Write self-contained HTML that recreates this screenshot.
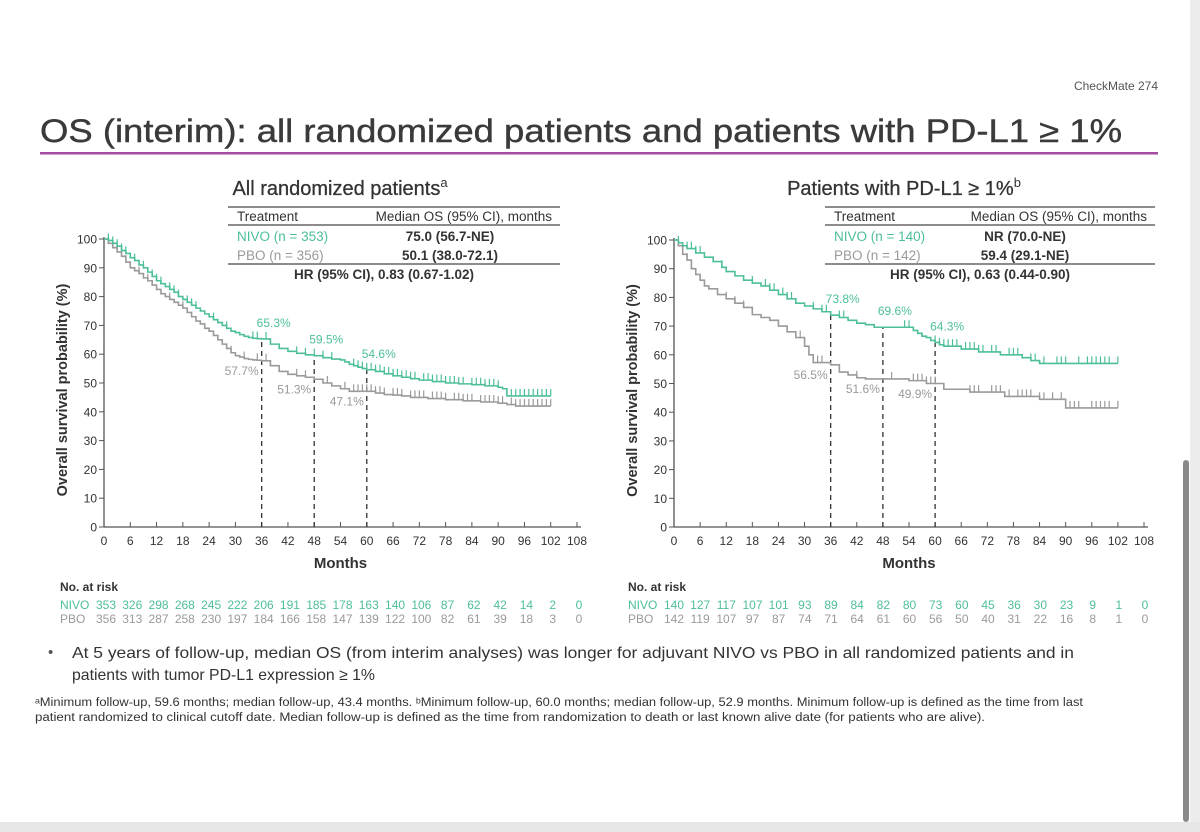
<!DOCTYPE html>
<html><head><meta charset="utf-8"><style>
html,body{margin:0;padding:0;background:#fff;width:1200px;height:832px;overflow:hidden}
svg{display:block;font-family:"Liberation Sans","DejaVu Sans",sans-serif}
</style></head><body>
<svg id="s" width="1200" height="832" viewBox="0 0 1200 832">
<rect x="0" y="0" width="1200" height="832" fill="#fff"/>
<rect x="1190" y="0" width="10" height="832" fill="#ececec"/>
<rect x="0" y="822" width="1200" height="10" fill="#e6e6e6"/>
<rect x="1183" y="460" width="6" height="362" rx="3" fill="#8a8a8a"/>
<text x="1158" y="90" font-size="12" fill="#555" text-anchor="end">CheckMate 274</text>
<text x="40" y="142" font-size="32" fill="#3a3a3a" stroke="#3a3a3a" stroke-width="0.4" textLength="1082" lengthAdjust="spacingAndGlyphs">OS (interim): all randomized patients and patients with PD-L1 ≥ 1%</text>
<rect x="40" y="152" width="1118" height="2.5" fill="#a54ba0"/>
<g id="charts"></g>
<text x="48" y="657" font-size="15" fill="#555">•</text>
<text x="72" y="658" font-size="16" fill="#333" textLength="1002" lengthAdjust="spacingAndGlyphs">At 5 years of follow-up, median OS (from interim analyses) was longer for adjuvant NIVO vs PBO in all randomized patients and in</text>
<text x="72" y="680" font-size="16" fill="#333" textLength="303" lengthAdjust="spacingAndGlyphs">patients with tumor PD-L1 expression ≥ 1%</text>
<text x="35" y="706" font-size="11.5" fill="#333" textLength="1048" lengthAdjust="spacingAndGlyphs">ᵃMinimum follow-up, 59.6 months; median follow-up, 43.4 months. ᵇMinimum follow-up, 60.0 months; median follow-up, 52.9 months. Minimum follow-up is defined as the time from last</text>
<text x="35" y="721" font-size="11.5" fill="#333" textLength="950" lengthAdjust="spacingAndGlyphs">patient randomized to clinical cutoff date. Median follow-up is defined as the time from randomization to death or last known alive date (for patients who are alive).</text>
</svg>
<script>
// ---- data ----
const xTicks=[0,6,12,18,24,30,36,42,48,54,60,66,72,78,84,90,96,102,108];
const yTicks=[0,10,20,30,40,50,60,70,80,90,100];
const riskMonths=[0,6,12,18,24,30,36,42,48,54,60,66,72,78,84,90,96,102,108];
const leftNivoT=[0,1,2,3,4,5,6,7,8,9,10,11,12,13,14,15,16,17,18,19,20,21,22,23,24,25,26,27,28,29,30,31,32,33,34,35,36,38,40,42,44,46,48,50,52,54,55,56,57,58,59,60,62,64,66,68,70,72,75,78,81,84,87,90,91,92,102];
const leftNivoS=[100,99.5,98.5,97.5,96,95,93.5,92.5,91,90,88.5,87,85.5,84.5,83.5,82.5,81.5,80,79,78,77,76,75,74,73,72,71,70,69,68,67.5,66.8,66.2,65.8,65.5,65.4,65.3,63.5,62,61,60.3,59.8,59.5,58.8,58.3,58,57.3,56.5,56,55.5,55,54.6,54,53.2,52.5,52,51.5,51,50.5,50,49.7,49.4,49,48.5,48,45.5,45.5];
const leftPboT=[0,1,2,3,4,5,6,7,8,9,10,11,12,13,14,15,16,17,18,19,20,21,22,23,24,25,26,27,28,29,30,31,32,33,34,35,36,38,40,42,44,46,48,50,52,54,56,58,60,62,64,66,68,70,74,78,82,86,90,92,94,102];
const leftPboS=[100,98.5,97,95.5,94,92,90,89,88,86.5,85.5,84,82.5,81,80,79,78,77,76,74.5,73,71.5,70.5,69,68,66.5,65,63.5,62,60.5,59.5,59,58.5,58.2,58,57.9,57.7,56,54,53,52.5,52,51.3,50,49,48,47.1,47.1,47.1,46.5,46,45.8,45.5,45,44.6,44.2,43.8,43.4,43,42.5,42,42];
const leftNivoCens=[1,2,3,4,5,7,9,11,12,13,15,16,17,19,20,21,25,28,34,35,37,44,46,48,50,52,57,58,59,60,61,62,63,64,65,66,67,68,69,70,71,73,74,75,76,77,78,79,80,81,82,84,85,86,87,88,89,90,92,93,94,95,96,97,98,99,100,101,102];
const leftPboCens=[1,3,5,8,10,15,18,29,32,35,37,44,46,51,55,57,58,59,60,61,62,63,64,66,67,68,70,71,72,73,75,76,77,78,80,81,82,83,84,86,87,88,89,90,91,93,94,95,96,97,98,99,100,101,102];
const rightNivoT=[0,1,2,3,5,7,9,11,12,14,16,18,20,22,24,26,28,30,32,34,36,38,40,42,44,46,54,55,56,57,58,59,60,61,62,66,70,75,80,82,84,102];
const rightNivoS=[100,99,98,97,95.5,94,92.5,90.5,89,87.5,86,85,84,82.5,81,79.5,78,77,76,75,73.8,73,72,71,70.5,69.6,69.6,68.5,67.5,66.5,66,65,64.3,63.5,63,62,61,60,59,58,57,57];
const rightPboT=[0,1,2,3,4,5,6,7,8,10,12,14,16,18,20,22,24,26,28,30,31,32,36,38,40,42,44,54,58,62,68,76,84,90,102];
const rightPboS=[100,98,95,93,90,88,86,84,83,81,79.5,78,76.5,74,73,72,70,68,66,63,60,57.3,56.5,54,53,52,51.6,51,50,48,47,45.5,44.5,41.5,41.5];
const rightNivoCens=[1,3,4,5,6,11,18,21,22,23,25,26,27,32,34,35,38,39,53,54,60,61,62,63,64,65,67,68,69,70,71,73,74,77,78,79,82,83,85,88,89,90,93,95,96,97,98,99,100,102];
const rightPboCens=[1,3,12,14,16,18,29,33,34,42,50,55,56,57,58,59,60,68,69,70,73,74,75,77,79,80,81,82,84,85,87,89,91,92,93,96,97,98,99,100,102];
const leftNivoRisk=[353,326,298,268,245,222,206,191,185,178,163,140,106,87,62,42,14,2,0];
const leftPboRisk=[356,313,287,258,230,197,184,166,158,147,139,122,100,82,61,39,18,3,0];
const rightNivoRisk=[140,127,117,107,101,93,89,84,82,80,73,60,45,36,30,23,9,1,0];
const rightPboRisk=[142,119,107,97,87,74,71,64,61,60,56,50,40,31,22,16,8,1,0];
const leftLandmarks=[36,48,60];
const leftNivoLand=[65.3,59.5,54.6];
const leftPboLand=[57.7,51.3,47.1];
const rightNivoLand=[73.8,69.6,64.3];
const rightPboLand=[56.5,51.6,49.9];

const NS="http://www.w3.org/2000/svg";
const G="#4dbf98", P="#9a9a9a", T="#333";
const root=document.getElementById('charts');
function mk(tag,attrs,parent,text){const e=document.createElementNS(NS,tag);for(const k in attrs)e.setAttribute(k,attrs[k]);if(text!==undefined)e.textContent=text;(parent||root).appendChild(e);return e;}

function chart(o){
  const g=mk('g',{});
  
  
  const X=m=>o.x0+m*(o.x1-o.x0)/108;
  const Y=v=>o.y0-v*(o.y0-o.y100)/100;
  const tt=mk('text',{x:o.titleX,y:195,'font-size':20,fill:T,stroke:T,'stroke-width':0.3,'text-anchor':'middle'},g,o.title);
  
  
  mk('tspan',{'font-size':13,dy:-8,'stroke-width':0},tt,o.sup);
  const tx=o.tabX, tw=o.tabW;
  const tb=mk('g',{},g);
  
  
  mk('line',{x1:tx,x2:tx+tw,y1:207,y2:207,stroke:'#666','stroke-width':1.5},tb);
  mk('line',{x1:tx,x2:tx+tw,y1:225,y2:225,stroke:'#666','stroke-width':1.5},tb);
  mk('line',{x1:tx,x2:tx+tw,y1:264,y2:264,stroke:'#666','stroke-width':1.5},tb);
  mk('text',{x:tx+9,y:221,'font-size':13.5,fill:T},tb,'Treatment');
  mk('text',{x:tx+tw-8,y:221,'font-size':13.5,fill:T,'text-anchor':'end'},tb,'Median OS (95% CI), months');
  mk('text',{x:tx+9,y:241,'font-size':13.5,fill:G},tb,o.nivoN);
  mk('text',{x:tx+9,y:260,'font-size':13.5,fill:P},tb,o.pboN);
  mk('text',{x:tx+o.medX,y:241,'font-size':13.5,fill:T,'font-weight':'bold','text-anchor':'middle'},tb,o.nivoMed);
  mk('text',{x:tx+o.medX,y:260,'font-size':13.5,fill:T,'font-weight':'bold','text-anchor':'middle'},tb,o.pboMed);
  mk('text',{x:tx+tw/2+o.hrOff,y:279,'font-size':13.5,fill:T,'font-weight':'bold','text-anchor':'middle'},tb,o.hr);
  const ya=mk('line',{x1:X(0),x2:X(0),y1:Y(0),y2:Y(100)-2,stroke:'#555','stroke-width':1.3},g);
  
  
  const xa=mk('line',{x1:X(0),x2:X(108)+4,y1:Y(0),y2:Y(0),stroke:'#555','stroke-width':1.3},g);
  
  
  yTicks.forEach(v=>{
    mk('line',{x1:X(0)-5,x2:X(0),y1:Y(v),y2:Y(v),stroke:'#555'},g);
    const t=mk('text',{x:X(0)-7,y:Y(v)+4.5,'font-size':12,fill:T,'text-anchor':'end'},g,String(v));
    
    
  });
  xTicks.forEach(m=>{
    mk('line',{x1:X(m),x2:X(m),y1:Y(0),y2:Y(0)-5,stroke:'#555'},g);
    const t=mk('text',{x:X(m),y:Y(0)+18,'font-size':12,fill:T,'text-anchor':'middle'},g,String(m));
    
    
  });
  const xt=mk('text',{x:(X(0)+X(108))/2,y:568,'font-size':15,fill:T,'font-weight':'bold','text-anchor':'middle'},g,'Months');
  
  
  const yt=mk('text',{x:0,y:0,'font-size':14.5,fill:T,'font-weight':'bold','text-anchor':'middle',transform:`translate(${X(0)-37},${(Y(0)+Y(100))/2+7}) rotate(-90)`},g,'Overall survival probability (%)');
  
  
  o.land.forEach((m,i)=>{
    const l=mk('line',{x1:X(m),x2:X(m),y1:Y(0),y2:Y(o.nivoLand[i]),stroke:'#333','stroke-width':1.3,'stroke-dasharray':'5,4'},g);
    
    
  });
  function curve(T_,S_,cens,col,name){
    let d=`M${X(T_[0])},${Y(S_[0])}`;
    for(let i=1;i<T_.length;i++){d+=`H${X(T_[i])}V${Y(S_[i])}`;}
    const p=mk('path',{d:d,fill:'none',stroke:col,'stroke-width':1.6},g);
    
    
    const sv=m=>{let s=S_[0];for(let i=0;i<T_.length;i++){if(T_[i]<=m)s=S_[i];}return s;};
    cens.forEach(m=>{
      const c=mk('line',{x1:X(m),x2:X(m),y1:Y(sv(m)),y2:Y(sv(m))-7,stroke:col,'stroke-width':1.2},g);
      
      
    });
  }
  curve(o.pboT,o.pboS,o.pboCens,P,'pbo');
  curve(o.nivoT,o.nivoS,o.nivoCens,G,'nivo');
  o.land.forEach((m,i)=>{
    const a=mk('text',{x:X(m)+12,y:Y(o.nivoLand[i])-12,'font-size':12,fill:G,'text-anchor':'middle'},g,o.nivoLand[i].toFixed(1)+'%');
    
    
    const b=mk('text',{x:X(m)-3,y:Y(o.pboLand[i])+14,'font-size':12,fill:P,'text-anchor':'end'},g,o.pboLand[i].toFixed(1)+'%');
    
    
  });
  const rk=mk('g',{},g);
  
  
  mk('text',{x:o.riskX,y:591,'font-size':12,fill:T,'font-weight':'bold'},rk,'No. at risk');
  mk('text',{x:o.riskX,y:609,'font-size':12,fill:G},rk,'NIVO');
  mk('text',{x:o.riskX,y:623,'font-size':12,fill:P},rk,'PBO');
  const sp=(o.riskEnd-o.riskStart)/(riskMonths.length-1);
  riskMonths.forEach((m,i)=>{
    mk('text',{x:o.riskStart+i*sp,y:609,'font-size':12,fill:G,'text-anchor':'middle'},rk,String(o.nivoRisk[i]));
    mk('text',{x:o.riskStart+i*sp,y:623,'font-size':12,fill:P,'text-anchor':'middle'},rk,String(o.pboRisk[i]));
  });
}
chart({name:'chart-all-randomized',x0:104,x1:577,y0:527,y100:239,titleX:340,title:'All randomized patients',sup:'a',
  tabX:228,tabW:332,medX:222,hrOff:-10,nivoN:'NIVO (n = 353)',pboN:'PBO (n = 356)',nivoMed:'75.0 (56.7-NE)',pboMed:'50.1 (38.0-72.1)',hr:'HR (95% CI), 0.83 (0.67-1.02)',
  nivoT:leftNivoT,nivoS:leftNivoS,pboT:leftPboT,pboS:leftPboS,nivoCens:leftNivoCens,pboCens:leftPboCens,
  land:leftLandmarks,nivoLand:leftNivoLand,pboLand:leftPboLand,riskX:60,riskStart:106,riskEnd:579,nivoRisk:leftNivoRisk,pboRisk:leftPboRisk});
chart({name:'chart-pd-l1',x0:674,x1:1144,y0:527,y100:240,titleX:904,title:'Patients with PD-L1 ≥ 1%',sup:'b',
  tabX:825,tabW:330,medX:200,hrOff:-10,nivoN:'NIVO (n = 140)',pboN:'PBO (n = 142)',nivoMed:'NR (70.0-NE)',pboMed:'59.4 (29.1-NE)',hr:'HR (95% CI), 0.63 (0.44-0.90)',
  nivoT:rightNivoT,nivoS:rightNivoS,pboT:rightPboT,pboS:rightPboS,nivoCens:rightNivoCens,pboCens:rightPboCens,
  land:leftLandmarks,nivoLand:rightNivoLand,pboLand:rightPboLand,riskX:628,riskStart:674,riskEnd:1145,nivoRisk:rightNivoRisk,pboRisk:rightPboRisk});
</script>
</body></html>
